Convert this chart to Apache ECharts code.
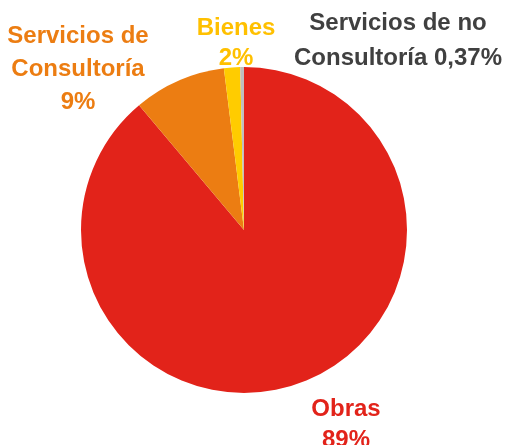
<!DOCTYPE html>
<html>
<head>
<meta charset="utf-8">
<script src="https://cdn.jsdelivr.net/npm/echarts@6/dist/echarts.min.js"></script>
<style>
  html, body { margin: 0; padding: 0; background: #fff; }
  #chart { width: 505px; height: 445px; }
</style>
</head>
<body>
<div id="chart"></div>
<script>
// Slices in clockwise order starting at 12 o'clock.
const CATEGORIES = ['Obras', 'Servicios de Consultoría', 'Bienes', 'Servicios de no Consultoría'];
const SHARES = [88.87, 9.16, 1.6, 0.37];
const LABEL_TEXT = [
  'Obras\n89%',
  'Servicios de\nConsultoría\n9%',
  'Bienes\n2%',
  'Servicios de no\nConsultoría 0,37%',
];

const SLICE_COLORS = ['#E2231A', '#EC7D12', '#FFCC00', '#BFBFBF'];
const LABEL_COLORS = ['#E2231A', '#EC7D12', '#FFC000', '#404040'];
// Label block centres and line heights (layout only).
const LABEL_POS = [
  { x: 346, y: 425, lh: 31 },
  { x: 78, y: 69, lh: 33 },
  { x: 236, y: 43, lh: 30 },
  { x: 398, y: 41, lh: 35 },
];

const chart = echarts.init(document.getElementById('chart'));

chart.setOption({
  animation: false,
  series: [{
    type: 'pie',
    center: [244, 230],
    radius: 163,
    startAngle: 90,
    clockwise: true,
    avoidLabelOverlap: false,
    labelLine: { show: false },
    data: CATEGORIES.map((name, i) => ({
      name,
      value: SHARES[i],
      itemStyle: { color: SLICE_COLORS[i] },
      label: {
        show: true,
        formatter: LABEL_TEXT[i],
        color: LABEL_COLORS[i],
        fontSize: 24,
        fontWeight: 'bold',
        fontFamily: '"Liberation Sans", Arial, sans-serif',
        lineHeight: LABEL_POS[i].lh,
        align: 'center',
      },
    })),
    labelLayout: p => ({
      x: LABEL_POS[p.dataIndex].x,
      y: LABEL_POS[p.dataIndex].y,
      align: 'center',
      verticalAlign: 'middle',
    }),
  }],
});
</script>
</body>
</html>
